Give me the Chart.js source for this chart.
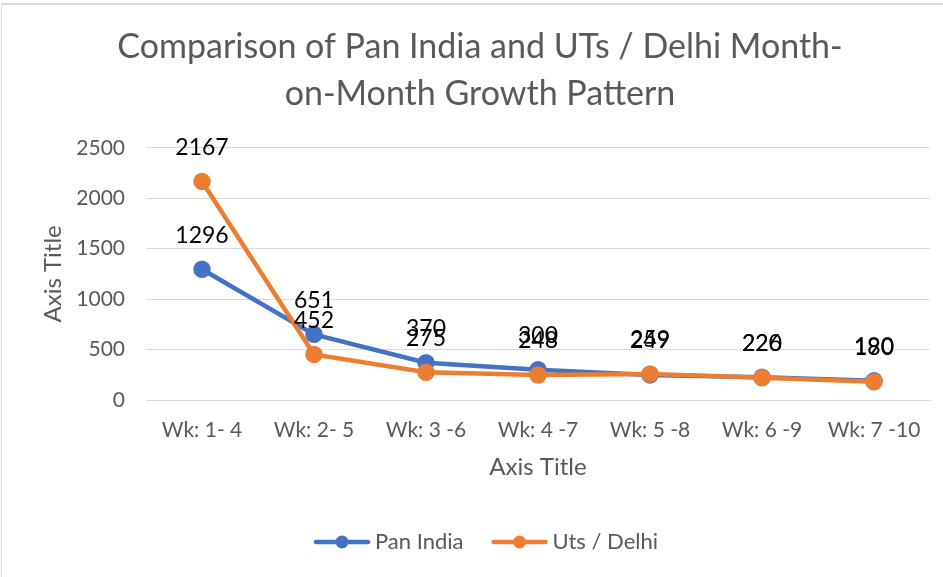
<!DOCTYPE html>
<html><head><meta charset="utf-8">
<script src="https://cdn.jsdelivr.net/npm/chart.js@4/dist/chart.umd.min.js"></script>
<style>
html,body{margin:0;padding:0;background:#fff;overflow:hidden;}
#wrap{position:absolute;left:1px;top:3px;width:942px;height:574px;border-left:1px solid #d9d9d9;border-top:2px solid #d9d9d9;overflow:hidden;}
canvas{position:absolute;left:0;top:0;}
</style></head>
<body>
<div id="wrap"><canvas id="c" width="957" height="572"></canvas></div>
<script>
const categories = ["Wk: 1- 4","Wk: 2- 5","Wk: 3 -6","Wk: 4 -7","Wk: 5 -8","Wk: 6 -9","Wk: 7 -10"];
const panIndia = [1296, 651, 370, 300, 249, 226, 190];
const utsDelhi = [2167, 452, 275, 248, 259, 220, 180];
const yTicks = [0, 500, 1000, 1500, 2000, 2500];

const FONT = "Lato, 'Open Sans', sans-serif";
const GRAY = '#595959';

function legendIcon(color) {
  const c = document.createElement('canvas');
  c.width = 100; c.height = 14;
  const g = c.getContext('2d');
  g.strokeStyle = color; g.lineWidth = 4.5; g.lineCap = 'round';
  g.beginPath(); g.moveTo(33, 7); g.lineTo(85, 7); g.stroke();
  g.fillStyle = color;
  g.beginPath(); g.arc(59, 7, 6.5, 0, Math.PI * 2); g.fill();
  return c;
}

const labelPlugin = {
  id: 'dlabels',
  afterDatasetsDraw(chart) {
    const ctx = chart.ctx;
    ctx.save();
    ctx.font = "23px " + FONT;
    ctx.fillStyle = "#000";
    ctx.textAlign = "center";
    ctx.textBaseline = "middle";
    chart.data.datasets.forEach((ds, i) => {
      const meta = chart.getDatasetMeta(i);
      meta.data.forEach((pt, j) => {
        ctx.fillText(String(ds.data[j]), pt.x, pt.y - 34);
      });
    });
    ctx.restore();
  }
};

new Chart(document.getElementById('c'), {
  type: 'line',
  data: {
    labels: categories,
    datasets: [
      {label: 'Pan India', data: panIndia, order: 1, borderColor: '#4472c4', backgroundColor: '#4472c4',
       borderWidth: 4.5, pointRadius: 6.5, pointHoverRadius: 6.5, pointBackgroundColor: '#4472c4', pointBorderColor: '#4472c4', tension: 0},
      {label: 'Uts / Delhi', data: utsDelhi, order: 0, borderColor: '#ed7d31', backgroundColor: '#ed7d31',
       borderWidth: 4.5, pointRadius: 6.5, pointHoverRadius: 6.5, pointBackgroundColor: '#ed7d31', pointBorderColor: '#ed7d31', tension: 0}
    ]
  },
  options: {
    responsive: false,
    animation: false,
    layout: {padding: {left: 28, right: 29, top: 0, bottom: 14}},
    plugins: {
      title: {display: true, text: ["Comparison of Pan India and UTs / Delhi Month-", "on-Month Growth Pattern"],
        color: GRAY, font: {family: FONT, size: 34, weight: 'normal', lineHeight: 1.38}, padding: {top: 19, bottom: 30}},
      legend: {position: 'bottom',
        labels: {color: GRAY, font: {family: FONT, size: 22}, usePointStyle: true, pointStyleWidth: 62, padding: 16,
          generateLabels: (chart) => chart.data.datasets.map((ds, i) => ({
            text: ds.label, fillStyle: ds.borderColor, strokeStyle: ds.borderColor, fontColor: GRAY,
            pointStyle: legendIcon(ds.borderColor), datasetIndex: i, hidden: false, lineWidth: 0
          }))}},
      tooltip: {enabled: false}
    },
    scales: {
      x: {
        offset: true,
        afterFit: (s) => { s.height = 115; },
        grid: {display: false, drawTicks: false},
        border: {color: '#d9d9d9', width: 1},
        ticks: {color: GRAY, font: {family: FONT, size: 21}, padding: 18, maxRotation: 0, autoSkip: false},
        title: {display: true, text: 'Axis Title', color: GRAY, font: {family: FONT, size: 24}, padding: {top: 0, bottom: 33}}
      },
      y: {
        min: 0, max: 2500,
        afterFit: (s) => { s.width = 116; },
        afterBuildTicks: (ax) => { ax.ticks = yTicks.map(v => ({value: v})); },
        grid: {color: '#d9d9d9', lineWidth: 1, drawTicks: false},
        border: {display: false},
        ticks: {color: GRAY, font: {family: FONT, size: 21}, padding: 21, callback: (v) => String(v)},
        title: {display: true, text: 'Axis Title', color: GRAY, font: {family: FONT, size: 24}, padding: {top: 9, bottom: 0}}
      }
    }
  },
  plugins: [labelPlugin]
});
</script>
</body></html>
